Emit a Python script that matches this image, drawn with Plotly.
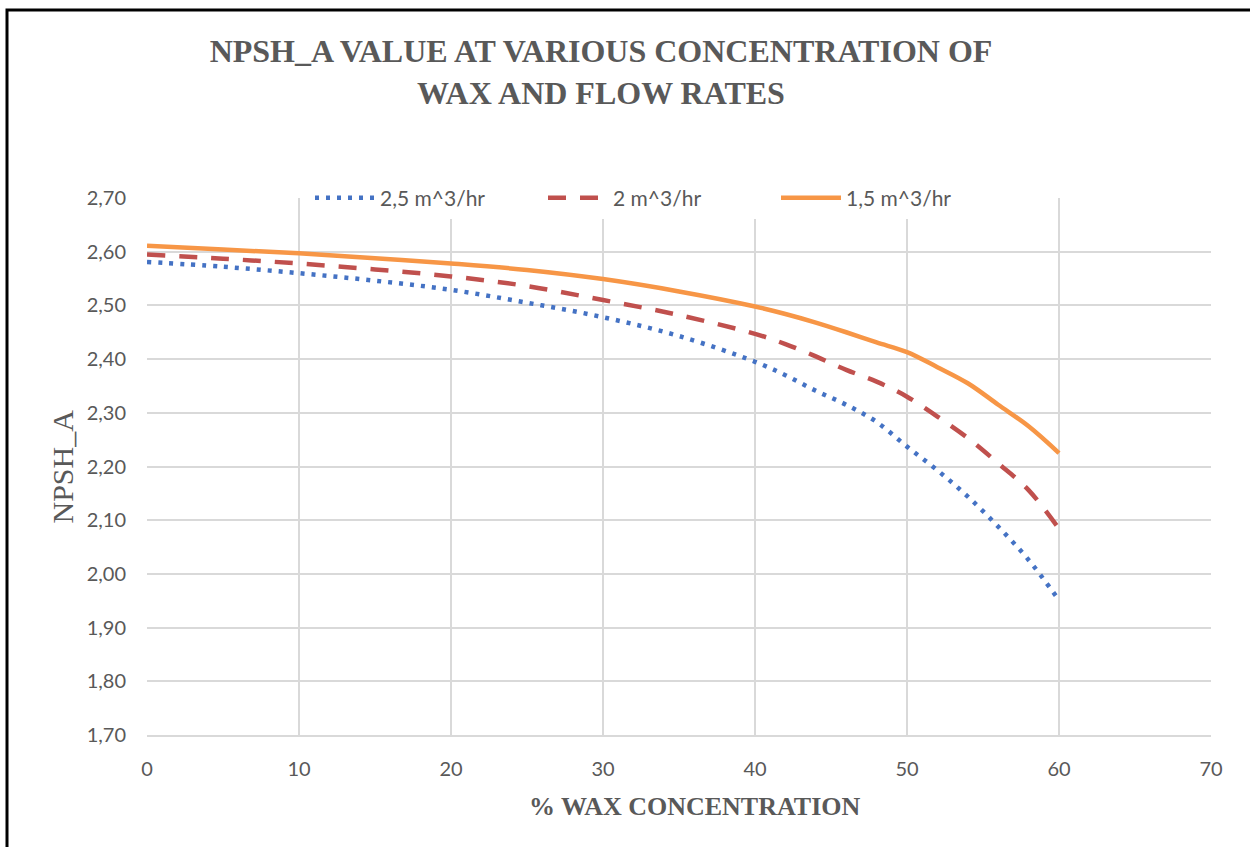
import plotly.graph_objects as go

x_wax = [0, 5, 10, 15, 20, 25, 30, 35, 40, 42, 44, 46, 48, 50, 52, 54, 56, 58, 60]
npsh_25 = [2.581, 2.572, 2.560, 2.546, 2.529, 2.505, 2.478, 2.443, 2.395, 2.370, 2.341,
           2.315, 2.283, 2.237, 2.193, 2.144, 2.088, 2.026, 1.951]
npsh_20 = [2.595, 2.587, 2.578, 2.567, 2.554, 2.536, 2.510, 2.482, 2.447, 2.428, 2.405,
           2.380, 2.358, 2.330, 2.293, 2.253, 2.206, 2.156, 2.084]
npsh_15 = [2.611, 2.604, 2.597, 2.588, 2.578, 2.566, 2.549, 2.526, 2.498, 2.484, 2.468,
           2.450, 2.431, 2.413, 2.385, 2.355, 2.315, 2.275, 2.225]
series_names = ["2,5 m^3/hr", "2 m^3/hr", "1,5 m^3/hr"]
x_ticks = [0, 10, 20, 30, 40, 50, 60, 70]
y_ticks = [1.70, 1.80, 1.90, 2.00, 2.10, 2.20, 2.30, 2.40, 2.50, 2.60, 2.70]

GRAY = "#595959"
GRID = "#D9D9D9"

fig = go.Figure()
fig.add_trace(go.Scatter(x=x_wax, y=npsh_25, name=series_names[0], mode="lines",
                         line=dict(color="#4472C4", width=4.5, dash="4px,7px", shape="spline")))
fig.add_trace(go.Scatter(x=x_wax, y=npsh_20, name=series_names[1], mode="lines",
                         line=dict(color="#C0504D", width=4.5, dash="18px,14px", shape="spline")))
fig.add_trace(go.Scatter(x=x_wax, y=npsh_15, name=series_names[2], mode="lines",
                         line=dict(color="#F79646", width=4.5, shape="spline")))

L, R, T, B = 147, 1211, 198, 735
W, H = 1250, 847
pw, ph = R - L, B - T

def px(xp):
    return (xp - L) / pw

def py(yp):
    return (B - yp) / ph

fig.update_layout(
    width=W, height=H,
    margin=dict(l=L, r=W - R, t=T, b=H - B, pad=0),
    paper_bgcolor="white", plot_bgcolor="white",
    separators=",.",
    font=dict(family="Lato", color=GRAY, size=20),
    title=dict(text="NPSH_A VALUE AT VARIOUS CONCENTRATION OF<br>WAX AND FLOW RATES",
               x=601 / W, xanchor="center", xref="container",
               y=1 - 62 / H, yanchor="top", yref="container",
               font=dict(family="Liberation Serif", size=32, color=GRAY, weight="bold")),
    xaxis=dict(range=[0, 70], tickvals=x_ticks, showgrid=True, gridcolor=GRID, gridwidth=1.5,
               zeroline=False, showline=True, linecolor=GRID, linewidth=1.5,
               ticks="", ticklabelstandoff=15, tickfont=dict(size=20, color=GRAY)),
    yaxis=dict(range=[1.70, 2.70], tickvals=y_ticks, tickformat=".2f", showgrid=True,
               gridcolor=GRID, gridwidth=1.5, zeroline=False, showline=False,
               ticks="", ticklabelstandoff=20, tickfont=dict(size=20, color=GRAY)),
    legend=dict(orientation="h", x=px(310), xanchor="left", y=1.0, yanchor="middle",
                bgcolor="white", font=dict(size=21, color=GRAY),
                entrywidth=158, entrywidthmode="pixels", itemwidth=60),
    showlegend=True,
    annotations=[
        dict(text="% WAX CONCENTRATION", xref="paper", yref="paper", x=px(695), y=py(806),
             showarrow=False, xanchor="center", yanchor="middle",
             font=dict(family="Liberation Serif", size=26, color=GRAY, weight="bold")),
        dict(text="NPSH_A", xref="paper", yref="paper", x=px(62), y=0.5, textangle=-90,
             showarrow=False, xanchor="center", yanchor="middle",
             font=dict(family="Liberation Serif", size=30, color=GRAY)),
    ],
    shapes=[dict(type="rect", xref="paper", yref="paper",
                 x0=px(7), x1=px(1270), y0=py(870), y1=py(10),
                 line=dict(color="black", width=3), fillcolor="rgba(0,0,0,0)", layer="above")],
)

fig.write_html("out.html")
